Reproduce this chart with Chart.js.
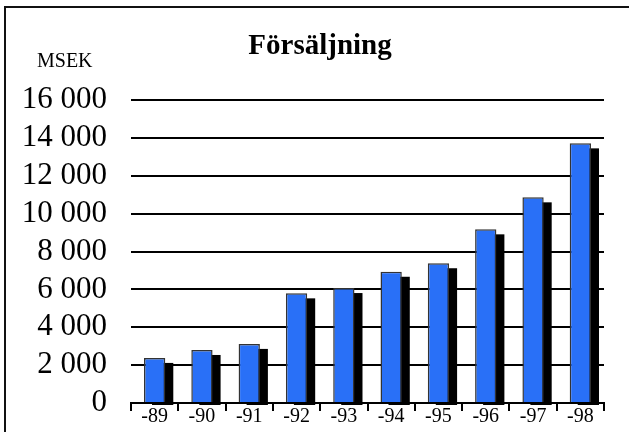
<!DOCTYPE html>
<html>
<head>
<meta charset="utf-8">
<script src="https://cdn.jsdelivr.net/npm/chart.js@4/dist/chart.umd.min.js"></script>
<style>
html,body{margin:0;padding:0;background:#fff;overflow:hidden;}
#wrap{width:629px;height:432px;position:relative;}
</style>
</head>
<body>
<div id="wrap"><canvas id="c"></canvas></div>
<script>
const titleText = 'Försäljning';
const unitText = 'MSEK';
const categories = ['-89','-90','-91','-92','-93','-94','-95','-96','-97','-98'];
const salesValues = [2380, 2800, 3120, 5790, 6070, 6930, 7380, 9170, 10860, 13710];
const yTickValues = [0, 2000, 4000, 6000, 8000, 10000, 12000, 14000, 16000];

const SERIF = "'Liberation Serif', 'Times New Roman', serif";

const framePlugin = {
  id: 'frame',
  beforeDraw(chart) {
    const ctx = chart.ctx;
    ctx.save();
    ctx.fillStyle = '#fff';
    ctx.fillRect(0, 0, chart.width, chart.height);
    ctx.fillStyle = '#111';
    ctx.fillRect(4, 6, 2, chart.height - 6);
    ctx.fillRect(4, 6, chart.width - 4, 2);
    ctx.restore();
  },
  afterDraw(chart) {
    const ctx = chart.ctx;
    ctx.save();
    ctx.fillStyle = '#000';
    ctx.textBaseline = 'alphabetic';
    ctx.textAlign = 'center';
    ctx.font = 'bold 29px ' + SERIF;
    ctx.fillText(titleText, 320, 54);
    ctx.textAlign = 'left';
    ctx.font = '20px ' + SERIF;
    ctx.fillText(unitText, 37, 67);
    ctx.restore();
  }
};

// Black drop shadow behind each bar, placed from the bar elements' own geometry
const shadowPlugin = {
  id: 'barShadow',
  beforeDatasetDraw(chart, args) {
    const ctx = chart.ctx;
    const area = chart.chartArea;
    const dx = 8, dy = 5;
    ctx.save();
    ctx.beginPath();
    ctx.rect(area.left, area.top - 20, area.right - area.left + 20, area.bottom - area.top + 22);
    ctx.clip();
    ctx.fillStyle = '#000';
    args.meta.data.forEach(bar => {
      const p = bar.getProps(['x', 'y', 'base', 'width'], true);
      const top = Math.min(p.y, p.base);
      const h = Math.abs(p.base - p.y);
      ctx.fillRect(p.x - p.width / 2 + dx, top + dy, p.width, h);
    });
    ctx.restore();
  }
};

new Chart(document.getElementById('c'), {
  type: 'bar',
  data: {
    labels: categories,
    datasets: [{
      data: salesValues,
      backgroundColor: 'rgb(41,112,247)',
      borderColor: '#333',
      borderWidth: 1.5,
      categoryPercentage: 1,
      barPercentage: 0.45
    }]
  },
  options: {
    responsive: true,
    maintainAspectRatio: false,
    animation: false,
    devicePixelRatio: 1,
    layout: {padding: {top: 100, right: 25, bottom: 0, left: 0}},
    plugins: {
      legend: {display: false},
      title: {display: false},
      tooltip: {enabled: false}
    },
    scales: {
      x: {
        offset: true,
        grid: {
          offset: true,
          drawOnChartArea: false,
          drawTicks: true,
          tickLength: 8,
          color: '#000',
          lineWidth: 2
        },
        border: {display: true, color: '#000', width: 2},
        ticks: {
          color: '#000',
          padding: -6,
          maxRotation: 0,
          autoSkip: false,
          font: {family: SERIF, size: 20}
        },
        afterFit(scale) { scale.height = 29; }
      },
      y: {
        min: 0,
        max: 16000,
        afterBuildTicks(scale) { scale.ticks = yTickValues.map(v => ({value: v})); },
        grid: {
          color: '#000',
          lineWidth: 2,
          drawTicks: true,
          tickLength: 24,
          tickColor: 'rgba(0,0,0,0)'
        },
        border: {display: false},
        ticks: {
          color: '#000',
          padding: 0,
          autoSkip: false,
          font: {family: SERIF, size: 31},
          callback: (v) => String(v).replace(/\B(?=(\d{3})+(?!\d))/g, ' ')
        },
        afterFit(scale) { scale.width = 131; }
      }
    }
  },
  plugins: [framePlugin, shadowPlugin]
});
</script>
</body>
</html>
